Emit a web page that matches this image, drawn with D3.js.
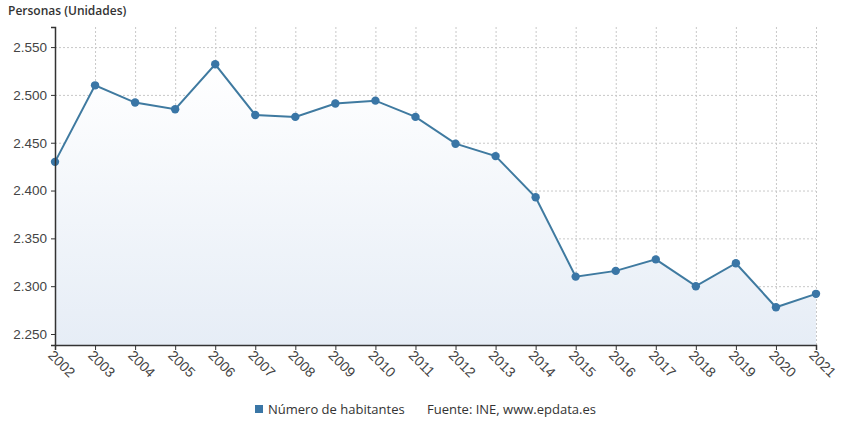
<!DOCTYPE html>
<html lang="es">
<head>
  <meta charset="UTF-8">
  <title>Número de habitantes</title>
  <script src="https://d3js.org/d3.v7.min.js"></script>
  <style>
    body { margin: 0; background: #fff; }
    svg { display: block; font-family: 'Open Sans', 'Noto Sans', sans-serif; }
    .grid line { stroke: #c8c8c8; stroke-dasharray: 2,2; }
    .grid path { display: none; }
    .axis text { fill: #444; font-size: 13.5px; }
    .axis.x text { font-size: 14px; }
    .axis path, .axis line { stroke: #333; }
    .legend text { font-size: 13px; fill: #333; }
  </style>
</head>
<body>
  <svg id="chart" width="843" height="422"></svg>
  <script>
    const years = [2002, 2003, 2004, 2005, 2006, 2007, 2008, 2009, 2010, 2011,
                   2012, 2013, 2014, 2015, 2016, 2017, 2018, 2019, 2020, 2021];
    const habitantes = [2430, 2510, 2492, 2485, 2532, 2479, 2477, 2491, 2494, 2477,
                        2449, 2436, 2393, 2310, 2316, 2328, 2300, 2324, 2278, 2292];
    const yTicks = [2250, 2300, 2350, 2400, 2450, 2500, 2550];

    const data = years.map((y, i) => ({year: y, value: habitantes[i]}));

    const svg = d3.select("#chart"),
          margin = {top: 27, right: 27, bottom: 77, left: 55},
          w = +svg.attr("width") - margin.left - margin.right,
          h = +svg.attr("height") - margin.top - margin.bottom;

    const g = svg.append("g").attr("transform", `translate(${margin.left},${margin.top})`);

    const x = d3.scaleLinear().domain(d3.extent(years)).range([0, w]);
    const y = d3.scaleLinear().domain([2238.5, 2571]).range([h, 0]);

    // gradient fill
    const grad = svg.append("defs").append("linearGradient")
      .attr("id", "fillGrad").attr("x1", 0).attr("y1", 0).attr("x2", 0).attr("y2", 1);
    grad.append("stop").attr("offset", "0%").attr("stop-color", "#ffffff");
    grad.append("stop").attr("offset", "100%").attr("stop-color", "#e6edf6");

    // grid
    g.append("g").attr("class", "grid")
      .call(d3.axisLeft(y).tickValues(yTicks).tickSize(-w).tickFormat(""));
    g.append("g").attr("class", "grid")
      .call(d3.axisTop(x).tickValues(years).tickSize(-h).tickFormat(""));

    // area
    g.append("path")
      .datum(data)
      .attr("fill", "url(#fillGrad)")
      .attr("d", d3.area().x(d => x(d.year)).y0(h).y1(d => y(d.value)));

    // line
    g.append("path")
      .datum(data)
      .attr("fill", "none")
      .attr("stroke", "#3f7aa0")
      .attr("stroke-width", 2)
      .attr("d", d3.line().x(d => x(d.year)).y(d => y(d.value)));

    g.selectAll(".dot").data(data).enter().append("circle")
      .attr("cx", d => x(d.year)).attr("cy", d => y(d.value))
      .attr("r", 4.2).attr("fill", "#3a76a6");

    // axes
    const fmt = d3.format(",.0f");
    g.append("g").attr("class", "axis y")
      .call(d3.axisLeft(y).tickValues(yTicks).tickSize(4).tickPadding(4)
        .tickFormat(d => fmt(d).replace(",", ".")))
      .call(a => a.select(".domain").attr("stroke-width", 1.5));

    g.append("g").attr("class", "axis x")
      .attr("transform", `translate(0,${h})`)
      .call(d3.axisBottom(x).tickValues(years).tickSize(5).tickFormat(d3.format("d")))
      .call(a => a.select(".domain").attr("stroke-width", 1.5))
      .call(a => a.selectAll("text")
        .attr("text-anchor", "start")
        .attr("transform", "translate(-2,2) rotate(45)")
        .attr("dy", "0.35em").attr("y", 6).attr("x", 2));

    // title
    svg.append("text")
      .attr("x", 8).attr("y", 15)
      .style("font-size", "12px").style("font-weight", 600).attr("fill", "#333")
      .text("Personas (Unidades)");

    // legend
    const legend = svg.append("g").attr("class", "legend");
    legend.append("rect").attr("x", 255).attr("y", 405).attr("width", 8).attr("height", 8).attr("fill", "#3a76a6");
    legend.append("text").attr("x", 268).attr("y", 414).text("Número de habitantes");
    legend.append("text").attr("x", 427).attr("y", 414).text("Fuente: INE, www.epdata.es");
  </script>
</body>
</html>
